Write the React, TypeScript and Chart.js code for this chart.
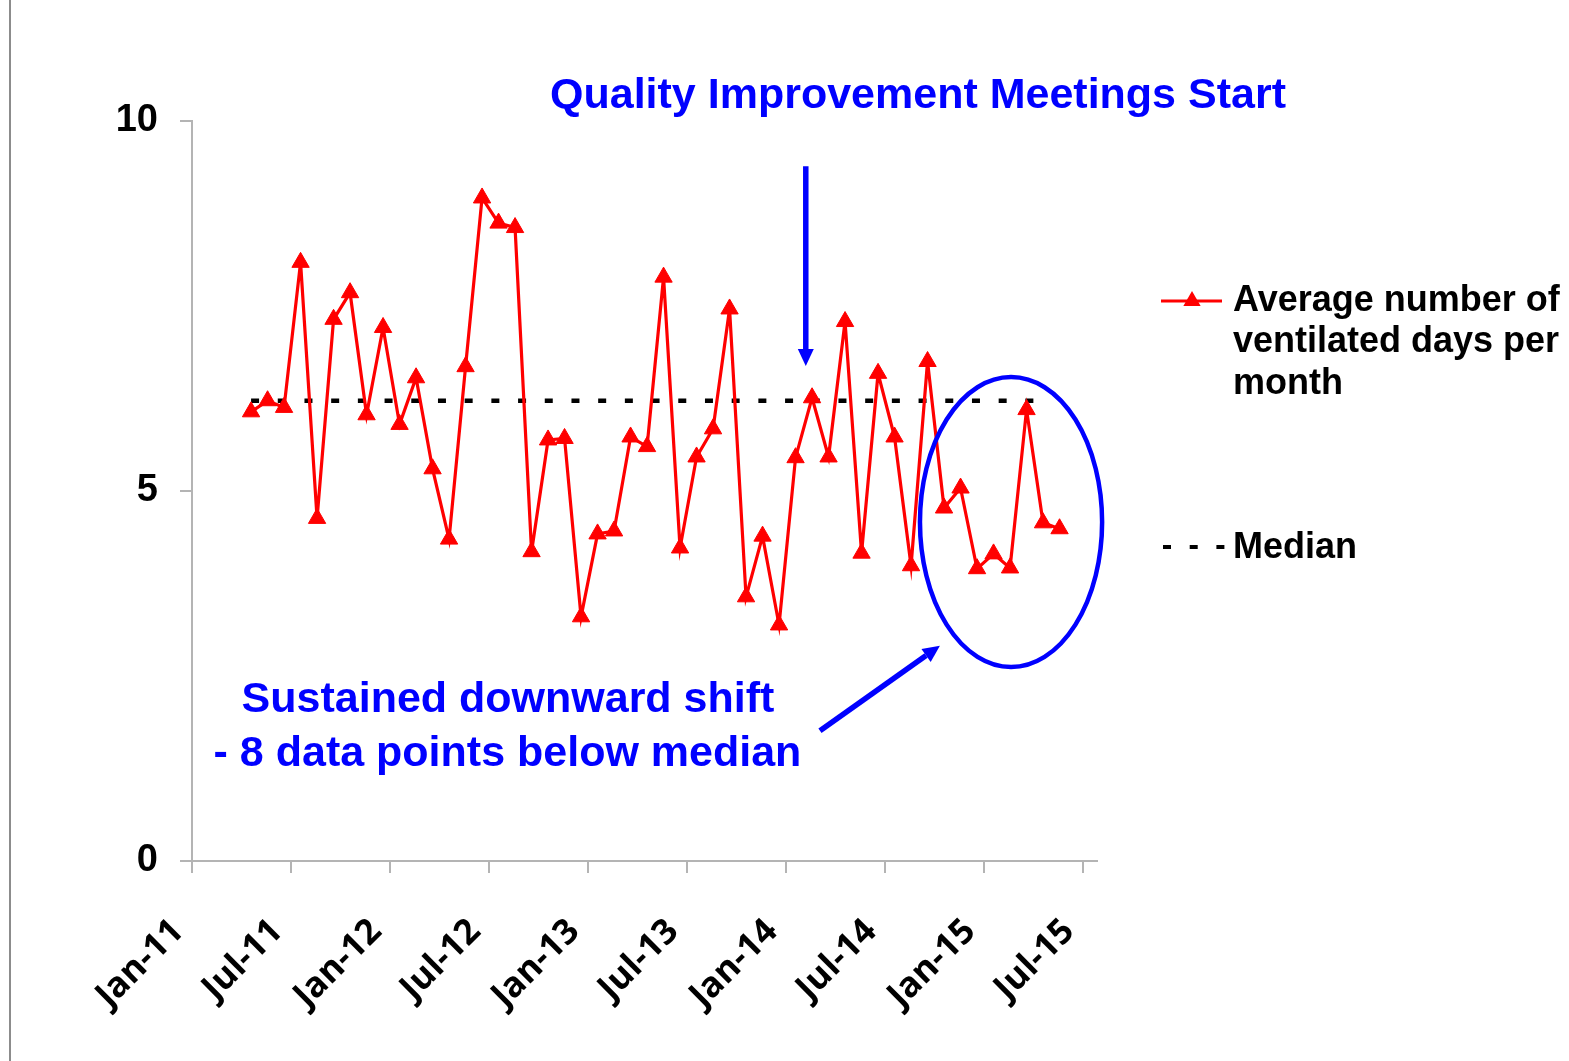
import React, { useEffect, useRef } from 'react';
import { Chart, registerables } from 'chart.js';

Chart.register(...registerables);

const MONTHS = ['Jan', 'Feb', 'Mar', 'Apr', 'May', 'Jun', 'Jul', 'Aug', 'Sep', 'Oct', 'Nov', 'Dec'];

const monthLabels = [
  'Apr-11', 'May-11', 'Jun-11', 'Jul-11', 'Aug-11', 'Sep-11', 'Oct-11', 'Nov-11', 'Dec-11',
  'Jan-12', 'Feb-12', 'Mar-12', 'Apr-12', 'May-12', 'Jun-12', 'Jul-12', 'Aug-12', 'Sep-12', 'Oct-12', 'Nov-12', 'Dec-12',
  'Jan-13', 'Feb-13', 'Mar-13', 'Apr-13', 'May-13', 'Jun-13', 'Jul-13', 'Aug-13', 'Sep-13', 'Oct-13', 'Nov-13', 'Dec-13',
  'Jan-14', 'Feb-14', 'Mar-14', 'Apr-14', 'May-14', 'Jun-14', 'Jul-14', 'Aug-14', 'Sep-14', 'Oct-14', 'Nov-14', 'Dec-14',
  'Jan-15', 'Feb-15', 'Mar-15', 'Apr-15', 'May-15',
];

const ventilatedDays = [
  6.07, 6.22, 6.13, 8.09, 4.63, 7.32, 7.68, 6.03, 7.21,
  5.90, 6.53, 5.30, 4.35, 6.68, 8.96, 8.62, 8.56, 4.18, 5.69, 5.71, 3.30,
  4.42, 4.46, 5.73, 5.60, 7.89, 4.23, 5.46, 5.84, 7.46, 3.57, 4.39, 3.19,
  5.45, 6.26, 5.46, 7.29, 4.16, 6.59, 5.73, 3.99, 6.75, 4.77, 5.04, 3.95,
  4.15, 3.96, 6.10, 4.57, 4.49,
];

const medianValue = 6.22;
const medianStart = 'Apr-11';
const medianEnd = 'Apr-15';

const xTickLabels = ['Jan-11', 'Jul-11', 'Jan-12', 'Jul-12', 'Jan-13', 'Jul-13', 'Jan-14', 'Jul-14', 'Jan-15', 'Jul-15'];
const yTickValues = [0, 5, 10];

const seriesLabel = 'Average number of ventilated days per month';
const legendLines = ['Average number of', 'ventilated days per', 'month'];
const medianLabel = 'Median';
const topNote = 'Quality Improvement Meetings Start';
const shiftNote = ['Sustained downward shift', '- 8 data points below median'];

const DAY_FRACTION = 0.58;
const monthIndex = (label: string) => {
  const [m, y] = label.split('-');
  return (Number(y) - 11) * 12 + MONTHS.indexOf(m);
};

const AXIS_GRAY = '#b4b4b4';
const BLUE = '#0000ff';
const RED = '#ff0000';
const BOLD_FONT = '"Liberation Sans", Arial, sans-serif';

function drawArrow(ctx: CanvasRenderingContext2D, x1: number, y1: number, x2: number, y2: number, w: number, headLen: number, headW: number) {
  const ang = Math.atan2(y2 - y1, x2 - x1);
  const bx = x2 - Math.cos(ang) * headLen;
  const by = y2 - Math.sin(ang) * headLen;
  ctx.save();
  ctx.strokeStyle = BLUE;
  ctx.fillStyle = BLUE;
  ctx.lineWidth = w;
  ctx.beginPath();
  ctx.moveTo(x1, y1);
  ctx.lineTo(bx, by);
  ctx.stroke();
  const nx = -Math.sin(ang) * headW / 2;
  const ny = Math.cos(ang) * headW / 2;
  ctx.beginPath();
  ctx.moveTo(x2, y2);
  ctx.lineTo(bx + nx, by + ny);
  ctx.lineTo(bx - nx, by - ny);
  ctx.closePath();
  ctx.fill();
  ctx.restore();
}

const annotationPlugin = {
  id: 'annotations',
  beforeDraw(chart: any) {
    const ctx = chart.ctx;
    ctx.save();
    ctx.fillStyle = '#ffffff';
    ctx.fillRect(0, 0, chart.width, chart.height);
    ctx.strokeStyle = '#8c8c8c';
    ctx.lineWidth = 2;
    ctx.beginPath();
    ctx.moveTo(10, 0);
    ctx.lineTo(10, chart.height);
    ctx.stroke();
    ctx.restore();
  },
  afterDraw(chart: any) {
    const ctx = chart.ctx as CanvasRenderingContext2D;
    const xs = chart.scales.x;
    const ys = chart.scales.y;
    const px = (v: number) => xs.getPixelForValue(v);
    const py = (v: number) => ys.getPixelForValue(v);
    ctx.save();

    // Top note
    ctx.fillStyle = BLUE;
    ctx.font = `bold 43px ${BOLD_FONT}`;
    ctx.textAlign = 'center';
    ctx.textBaseline = 'middle';
    ctx.fillText(topNote, px(44.0), py(10.34));

    // Vertical arrow
    drawArrow(ctx, px(37.2), py(9.39), px(37.2), py(6.69), 5.5, 17, 16);

    // Ellipse around last points
    ctx.strokeStyle = BLUE;
    ctx.lineWidth = 4.5;
    ctx.beginPath();
    const cx = px(49.64), cy = py(4.58);
    const rx = px(49.64 + 5.52) - cx;
    const ry = cy - py(4.58 + 1.96);
    ctx.ellipse(cx, cy, rx, ry, 0, 0, Math.PI * 2);
    ctx.stroke();

    // Diagonal arrow
    drawArrow(ctx, px(38.06), py(1.76), px(45.33), py(2.91), 5.5, 17, 16);

    // Shift note
    ctx.fillStyle = BLUE;
    ctx.font = `bold 43px ${BOLD_FONT}`;
    ctx.textAlign = 'center';
    ctx.fillText(shiftNote[0], px(19.15), py(2.18));
    ctx.fillText(shiftNote[1], px(19.12), py(1.44));

    // Legend
    ctx.strokeStyle = RED;
    ctx.lineWidth = 3;
    ctx.beginPath();
    ctx.moveTo(1161, 301);
    ctx.lineTo(1222, 301);
    ctx.stroke();
    ctx.fillStyle = RED;
    const r = 10;
    const tcx = 1192, tcy = 301;
    ctx.beginPath();
    ctx.moveTo(tcx, tcy - r);
    ctx.lineTo(tcx + r * 0.866, tcy + r * 0.5);
    ctx.lineTo(tcx - r * 0.866, tcy + r * 0.5);
    ctx.closePath();
    ctx.fill();

    ctx.strokeStyle = '#000';
    ctx.lineWidth = 4;
    ctx.setLineDash([8, 18.7]);
    ctx.beginPath();
    ctx.moveTo(1163, 547);
    ctx.lineTo(1226, 547);
    ctx.stroke();
    ctx.setLineDash([]);

    ctx.fillStyle = '#000';
    ctx.font = `bold 36px ${BOLD_FONT}`;
    ctx.textAlign = 'left';
    ctx.textBaseline = 'middle';
    legendLines.forEach((t, i) => ctx.fillText(t, 1233, 301 + i * 41.5));
    ctx.fillText(medianLabel, 1233, 548);

    ctx.restore();
  },
};

export default function App() {
  const canvasRef = useRef<HTMLCanvasElement | null>(null);

  useEffect(() => {
    const canvas = canvasRef.current;
    if (!canvas) return;
    const chart = new Chart(canvas, {
      type: 'line',
      data: {
        datasets: [
          {
            label: seriesLabel,
            data: monthLabels.map((l, i) => ({ x: monthIndex(l) + DAY_FRACTION, y: ventilatedDays[i] })),
            borderColor: RED,
            backgroundColor: RED,
            borderWidth: 3.2,
            pointStyle: 'triangle',
            pointRadius: 10,
            pointBorderWidth: 1,
            pointBackgroundColor: RED,
            pointBorderColor: RED,
            tension: 0,
          },
          {
            label: medianLabel,
            data: [
              { x: monthIndex(medianStart) + DAY_FRACTION, y: medianValue },
              { x: monthIndex(medianEnd) + DAY_FRACTION, y: medianValue },
            ],
            borderColor: '#000000',
            borderWidth: 4.5,
            borderDash: [8, 18.7],
            pointRadius: 0,
            tension: 0,
          },
        ],
      },
      options: {
        responsive: false,
        animation: false,
        devicePixelRatio: 1,
        layout: { padding: { left: 0, top: 121, right: 472, bottom: 0 } },
        plugins: { legend: { display: false }, tooltip: { enabled: false } },
        scales: {
          x: {
            type: 'linear',
            min: 0,
            max: 54.85,
            afterFit: (s: any) => { s.height = 200; },
            afterBuildTicks: (s: any) => { s.ticks = xTickLabels.map((l) => ({ value: monthIndex(l) })); },
            ticks: {
              autoSkip: false,
              maxRotation: 45,
              minRotation: 45,
              padding: 38,
              labelOffset: -14,
              color: '#000',
              font: { family: '"Open Sans", sans-serif', weight: 'bold', size: 35 },
              callback: (v: any) => {
                const l = xTickLabels.find((t) => monthIndex(t) === Number(v));
                return l ?? '';
              },
            },
            grid: { drawOnChartArea: false, drawTicks: true, tickLength: 12, color: AXIS_GRAY, lineWidth: 2 },
            border: { display: true, color: AXIS_GRAY, width: 2 },
          },
          y: {
            min: 0,
            max: 10,
            afterFit: (s: any) => { s.width = 192; },
            afterBuildTicks: (s: any) => { s.ticks = yTickValues.map((v) => ({ value: v })); },
            ticks: {
              padding: 22,
              color: '#000',
              font: { family: BOLD_FONT, weight: 'bold', size: 38 },
            },
            grid: { drawOnChartArea: false, drawTicks: true, tickLength: 12, color: AXIS_GRAY, lineWidth: 2 },
            border: { display: true, color: AXIS_GRAY, width: 2 },
          },
        },
      },
      plugins: [annotationPlugin],
    } as any);
    return () => chart.destroy();
  }, []);

  return (
    <div style={{ position: 'fixed', left: 0, top: 0, width: 1569, height: 1061, background: '#fff' }}>
      <canvas ref={canvasRef} width={1569} height={1061} style={{ display: 'block', width: 1569, height: 1061 }} />
    </div>
  );
}
